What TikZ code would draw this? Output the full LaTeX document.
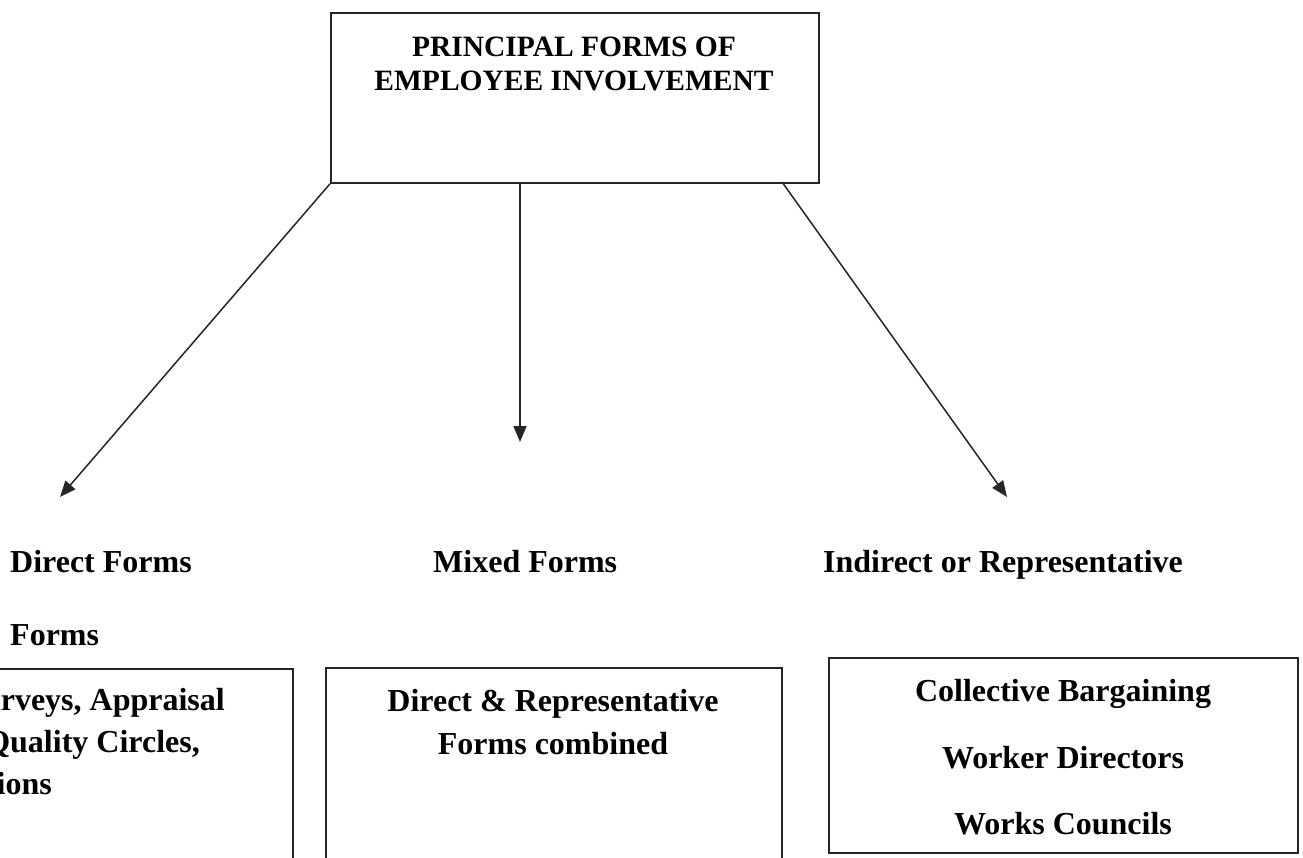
\documentclass[tikz,border=0pt]{standalone}
\usepackage{fontspec}
\setmainfont{Liberation Serif}
\usetikzlibrary{arrows.meta}
\begin{document}
\begin{tikzpicture}[x=1pt,y=-1pt,
  frame/.style={draw=black!85, line width=1.8pt, inner sep=0pt},
  ttl/.style={font=\fontsize{29.5}{36}\selectfont\bfseries, anchor=base, inner sep=0pt},
  lbl/.style={font=\fontsize{32}{38}\selectfont\bfseries, anchor=base west, inner sep=0pt},
  txt/.style={font=\fontsize{32}{38}\selectfont\bfseries, anchor=base, inner sep=0pt},
  txtr/.style={font=\fontsize{32}{38}\selectfont\bfseries, anchor=base east, inner sep=0pt},
  conn/.style={draw=black!85, line width=1.5pt, -{Triangle[length=16pt,width=13pt]}}]
\useasboundingbox (0,0) rectangle (1303,858);
\clip (0,0) rectangle (1303,858);
\fill[white] (0,0) rectangle (1303,858);

% top box
\node[frame, minimum width=488pt, minimum height=170pt, anchor=north west] (top) at (330,12) {};
\node[ttl] (t1) at (574,57) {PRINCIPAL FORMS OF};
\node[ttl] (t2) at (574,91) {EMPLOYEE INVOLVEMENT};

% connectors
\coordinate (s2) at (520,182);
\coordinate (s3) at (782,182);
\coordinate (e1) at (60,497);
\coordinate (e2) at (520,442);
\coordinate (e3) at (1007,497);
\draw[conn] (top.south west) -- (e1);
\draw[conn] (s2) -- (e2);
\draw[conn] (s3) -- (e3);

% labels
\node[lbl] (direct) at (10,572) {Direct Forms};
\node[lbl] (forms) at (10,645) {Forms};
\node[lbl] (mixed) at (433,572) {Mixed Forms};
\node[lbl] (indirect) at (823,572) {Indirect or Representative};

% left box
\node[frame, minimum width=600pt, minimum height=300pt, anchor=north east] (leftbox) at (294,668) {};
\node[txtr] (l1) at (225,710) {rveys, Appraisal};
\node[txtr] (l2) at (200,752) {Quality Circles,};
\node[txtr] (l3) at (52,794) {ions};

% middle box
\node[frame, minimum width=456pt, minimum height=300pt, anchor=north west] (midbox) at (325,667) {};
\node[txt] (m1) at (553,711) {Direct \& Representative};
\node[txt] (m2) at (553,754) {Forms combined};

% right box
\node[frame, minimum width=469pt, minimum height=195pt, anchor=north west] (rightbox) at (828,657) {};
\node[txt] (r1) at (1063,701) {Collective Bargaining};
\node[txt] (r2) at (1063,768) {Worker Directors};
\node[txt] (r3) at (1063,834) {Works Councils};
\end{tikzpicture}
\end{document}
